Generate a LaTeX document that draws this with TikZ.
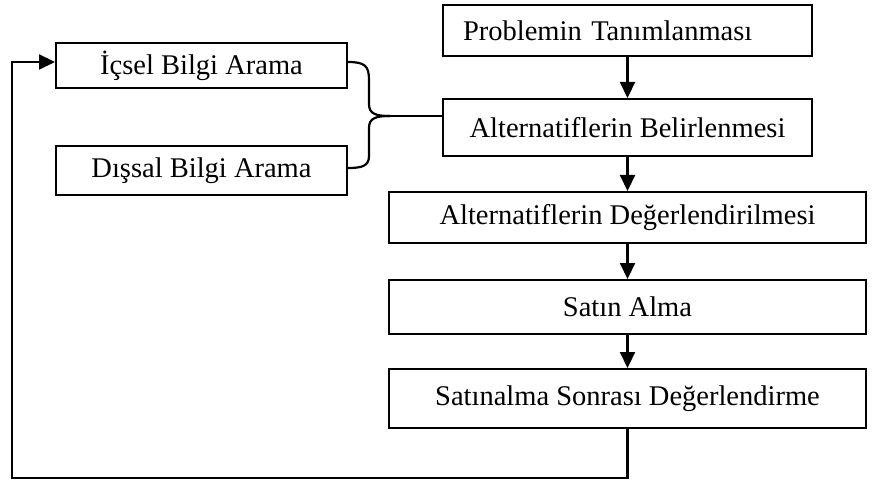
\documentclass[tikz,border=0pt]{standalone}
\usepackage{fontspec}
\setmainfont{Liberation Serif}
\usetikzlibrary{arrows.meta}
\begin{document}
\begin{tikzpicture}[x=1pt,y=-1pt,
  box/.style={draw, line width=2pt, inner sep=0pt, font=\fontsize{28.5}{31}\selectfont},
  conn/.style={line width=2.2pt},
  arr/.style={conn, -{Triangle[length=16pt,width=15pt]}}]
\useasboundingbox (0,0) rectangle (886,481);
\node[box, minimum width=369, minimum height=51, text width=329, align=left, inner xsep=20pt] (prob) at (627.5,30.5) {Problemin Tanımlanması};
\node[box, minimum width=369, minimum height=57] (bel) at (627.5,127.5) {Alternatiflerin Belirlenmesi};
\node[box, minimum width=477, minimum height=51] (deg) at (627.5,217.5) {Alternatiflerin Değerlendirilmesi};
\node[box, minimum width=477, minimum height=54] (sat) at (627.5,307) {Satın Alma};
\node[box, minimum width=477, minimum height=59] (son) at (627.5,398.5) {Satınalma Sonrası Değerlendirme};
\node[box, minimum width=291, minimum height=45] (ic) at (201.5,65.5) {İçsel Bilgi Arama};
\node[box, minimum width=291, minimum height=49] (dis) at (201.5,170.5) {Dışsal Bilgi Arama};
\coordinate (tip) at (390,116);
\coordinate (lb) at (12,478);
\draw[arr] (prob) -- (bel);
\draw[arr] (bel) -- (deg);
\draw[arr] (deg) -- (sat);
\draw[arr] (sat) -- (son);
\draw[conn] (ic.east |- 0,62) .. controls (365,62) and (369,66) .. (369,80) -- (369,104) .. controls (369,114) and (376,116) .. (tip);
\draw[conn] (tip) .. controls (376,116) and (369,118) .. (369,128) -- (369,156) .. controls (369,166) and (362,168) .. (dis.east |- 0,168);
\draw[conn] (tip) -- (bel.west |- tip);
\draw[arr] (son.south) |- (lb) |- (ic.west |- 0,62);
\end{tikzpicture}
\end{document}
